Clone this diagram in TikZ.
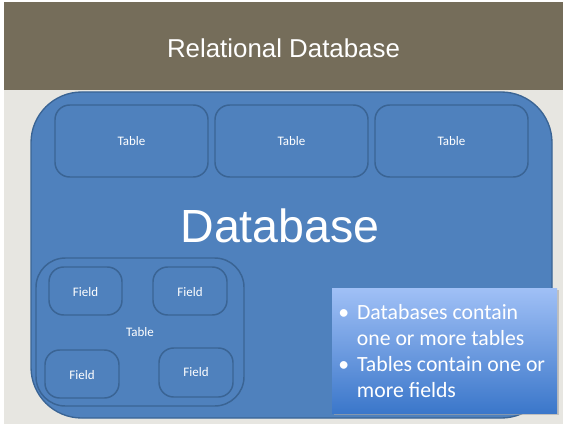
\documentclass[tikz,border=0pt]{standalone}
\usepackage{fontspec}
\setmainfont{Liberation Sans}
\newfontfamily\calib{Carlito}
\usetikzlibrary{positioning}
\definecolor{hdr}{HTML}{756D5A}
\definecolor{slidebg}{HTML}{E7E6E1}
\definecolor{dbfill}{HTML}{4F81BD}
\definecolor{dbline}{HTML}{3A6494}
\definecolor{notetop}{HTML}{A0C0F6}
\definecolor{notebot}{HTML}{3B77CA}
\tikzset{
  x=0.75pt, y=-0.75pt,
  subbox/.style={draw=dbline, line width=1.1pt, fill=dbfill, rounded corners=11pt},
  smalltxt/.style={text=white, font=\calib\fontsize{9.75}{11}\selectfont},
}
\begin{document}
\begin{tikzpicture}
\useasboundingbox (0,0) rectangle (563,424);
\fill[white] (0,0) rectangle (563,424);
\fill[slidebg] (4,2) rectangle (563,424);
\fill[hdr] (4,2) rectangle (563,90);
\node[text=white, font=\fontsize{19.4}{22}\selectfont] (title) at (283.5,48) {Relational Database};

% database
\draw[draw=dbline, line width=1pt, fill=dbfill, rounded corners=38pt] (31,92) rectangle (552,418);
\node[text=white, font=\fontsize{34.9}{40}\selectfont] (db) at (280,226) {Database};

% top tables
\draw[subbox] (55,105) rectangle (208,177);
\node[smalltxt] (t1) at (131.5,141) {Table};
\draw[subbox] (215,105) rectangle (368,177);
\node[smalltxt] (t2) at (291.5,141) {Table};
\draw[subbox] (375,105) rectangle (528,177);
\node[smalltxt] (t3) at (451.5,141) {Table};

% table with fields
\draw[subbox, rounded corners=22pt] (36,258) rectangle (244,406);
\node[smalltxt] (t4) at (140,332) {Table};
\draw[subbox] (49,267) rectangle (122,315);
\node[smalltxt] (f1) at (85.5,292) {Field};
\draw[subbox] (153,267) rectangle (227,315);
\node[smalltxt] (f2) at (190,292) {Field};
\draw[subbox] (45,350) rectangle (119,398);
\node[smalltxt] (f3) at (82,375) {Field};
\draw[subbox] (159,348) rectangle (233,397);
\node[smalltxt] (f4) at (196,372) {Field};

% note box
\fill[black!35, opacity=0.6] (334,290) rectangle (559,415);
\shade[top color=notetop, bottom color=notebot] (332,288) rectangle (557,413);
\node[anchor=north west, inner sep=0pt, text=white, align=left,
      font=\calib\fontsize{16.3}{19.5}\selectfont] (note) at (338,304)
{%
\begin{minipage}{170pt}
\begin{list}{\textbullet}{\leftmargin=14pt\labelwidth=8pt\labelsep=6pt\itemsep=0pt\topsep=0pt\parsep=0pt\partopsep=0pt}
\item Databases contain\\ one or more tables
\item Tables contain one or\\ more fields
\end{list}
\end{minipage}%
};
\end{tikzpicture}
\end{document}
